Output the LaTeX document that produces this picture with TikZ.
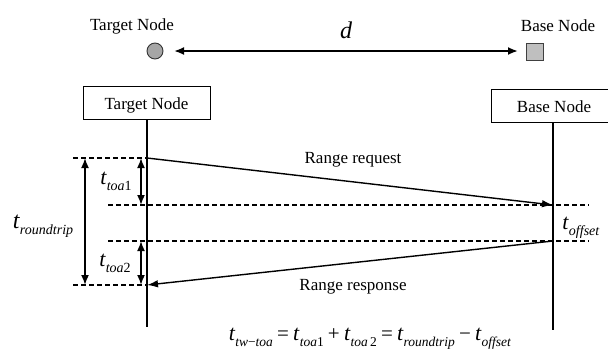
\documentclass[tikz,border=0pt]{standalone}
\usepackage{fontspec}
\setmainfont{Liberation Serif}
\usetikzlibrary{arrows.meta}
\newcommand{\tl}[3]{{\fontsize{#1}{#1}\selectfont\textit{t}\raisebox{-0.28em}{\fontsize{#2}{#2}\selectfont #3}}}
\begin{document}
\begin{tikzpicture}[x=1pt,y=-1pt,
  lbl/.style={font=\fontsize{17}{17}\selectfont,inner sep=0pt,anchor=base},
  lifebox/.style={draw,line width=1pt,inner sep=0pt},
  life/.style={line width=1.5pt},
  dsh/.style={line width=1.3pt,dash pattern=on 5pt off 3pt},
  msg/.style={line width=1.4pt,-{Latex[length=11pt,width=7.5pt]}},
  dim/.style={line width=1.7pt,{Latex[length=10pt,width=8pt]}-{Latex[length=10pt,width=8pt]}},
  tlab/.style={inner sep=0pt,anchor=base}]
\useasboundingbox (0,0) rectangle (608,354);
% top
\node[lbl] (toplt) at (132,30) {Target Node};
\node[lbl] (toplb) at (558,31) {Base Node};
\node[circle,draw=black!80,fill=black!35,line width=0.9pt,minimum size=16pt,inner sep=0pt] (tn) at (155,51) {};
\node[rectangle,draw=black!75,fill=black!25,line width=0.9pt,minimum size=17pt,inner sep=0pt] (bn) at (535,52) {};
\coordinate (dl) at (174,51);
\coordinate (dr) at (518,51);
\draw[line width=1.9pt,{Latex[length=10pt,width=8pt]}-{Latex[length=10pt,width=8pt]}] (dl) -- (dr);
\node[font=\fontsize{24}{24}\selectfont\itshape,inner sep=0pt,anchor=base] (dd) at (346,38) {d};
% boxes
\node[lifebox,minimum width=127pt,minimum height=33pt] (tbox) at (146.5,102.5) {};
\node[lbl] (tboxt) at (146.5,109) {Target Node};
\node[lifebox,minimum width=117pt,minimum height=33pt] (bbox) at (549.5,105.5) {};
\node[lbl] (bboxt) at (554,112) {Base Node};
\coordinate (tend) at (147,327);
\coordinate (bend) at (553,330);
\draw[life] (tbox.south -| tend) -- (tend);
\draw[life] (bbox.south -| bend) -- (bend);
% event points
\coordinate (req1) at (147,158);
\coordinate (req2) at (553,205);
\coordinate (res1) at (553,241);
\coordinate (res2) at (147,285);
% dashed lines
\coordinate (d1l) at (73,158);
\coordinate (d2l) at (108,205);
\coordinate (d2r) at (589,205);
\coordinate (d3l) at (108,241);
\coordinate (d3r) at (589,241);
\coordinate (d4l) at (73,285);
\draw[dsh] (d1l) -- (req1);
\draw[dsh] (d2l) -- (d2r);
\draw[dsh] (d3l) -- (d3r);
\draw[dsh] (d4l) -- (res2);
% messages
\draw[msg] (req1) -- (req2);
\draw[msg] (res1) -- (res2);
\node[lbl] (rq) at (353,163) {Range request};
\node[lbl] (rs) at (353,290) {Range response};
% dimension arrows
\coordinate (rt1) at (85,158);
\coordinate (rt2) at (85,285);
\coordinate (a1t) at (141,158);
\coordinate (a1b) at (141,205);
\coordinate (a2t) at (141,241);
\coordinate (a2b) at (141,285);
\draw[dim] (rt1) -- (rt2);
\draw[dim] (a1t) -- (a1b);
\draw[dim] (a2t) -- (a2b);
% labels
\node[tlab] (ltoa1) at (116,184) {\tl{22}{14}{\textit{toa}1}};
\node[tlab] (lrt) at (43,228) {\tl{24}{14}{\textit{roundtrip}}};
\node[tlab] (ltoa2) at (115,266) {\tl{22}{14}{\textit{toa}2}};
\node[tlab] (loff) at (581,229) {\tl{22}{14}{\textit{offset}}};
% equation
\node[tlab] (eq) at (370,340) {\fontsize{21}{21}\selectfont\tl{22}{13.5}{\textit{tw}−\textit{toa}}\hspace{0.2em}=\hspace{0.2em}\tl{22}{13.5}{\textit{toa}1}\hspace{0.2em}+\hspace{0.2em}\tl{22}{13.5}{\textit{toa}\,2}\hspace{0.2em}=\hspace{0.2em}\tl{22}{13.5}{\textit{roundtrip}}\hspace{0.2em}−\hspace{0.2em}\tl{22}{13.5}{\textit{offset}}};
\end{tikzpicture}
\end{document}
